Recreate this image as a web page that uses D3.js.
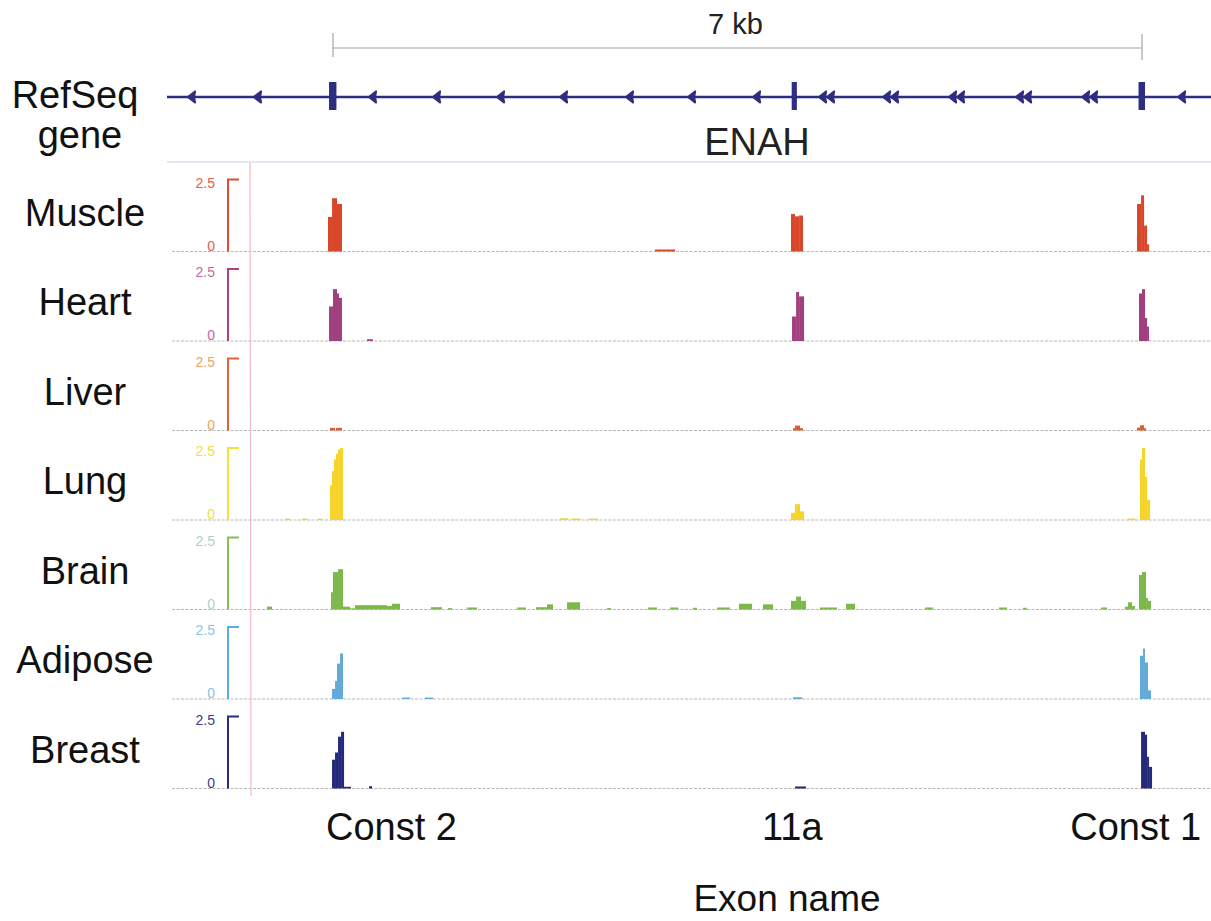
<!DOCTYPE html>
<html>
<head>
<meta charset="utf-8">
<script src="https://cdn.jsdelivr.net/npm/d3@7"></script>
<style>
  html, body { margin: 0; padding: 0; background: #fff; }
  svg { display: block; font-family: "Liberation Sans", Arial, Helvetica, sans-serif; }
</style>
</head>
<body>
<svg id="chart" width="1211" height="921"></svg>
<script>
// ---------- DATA (genomic positions in bp relative to view start) ----------
const viewDomain = [0, 9033];
const geneName = "ENAH";
const scaleBar = { start: 1436, length: 7000, label: "7 kb" };

const exons = [
  { name: "Const 2", start: 1402, end: 1466 },
  { name: "11a",     start: 5405, end: 5450 },
  { name: "Const 1", start: 8406, end: 8462 }
];
const singleArrows = [216, 787, 1782, 2336, 2890, 3435, 4006, 4543, 5105, 8783];
const doubleArrows = [5702, 6256, 6827, 7407, 7978];

const tissues = ["Muscle", "Heart", "Liver", "Lung", "Brain", "Adipose", "Breast"];
const yTicks = [0, 2.5];
const yTickLabels = ["0", "2.5"];

// coverage segments: [start bp, end bp, value]
const muscle = [
  [1393,1428,1.2],[1428,1471,1.85],[1471,1514,1.65],
  [4223,4396,0.07],
  [5399,5434,1.3],[5434,5469,1.22],[5469,5503,1.25],
  [8393,8428,1.65],[8428,8454,1.95],[8454,8480,0.9],[8480,8497,0.25]
];
const heart = [
  [1402,1436,1.2],[1436,1471,1.8],[1471,1488,1.65],[1488,1514,1.5],
  [1731,1782,0.06],
  [5408,5443,0.85],[5443,5469,1.7],[5469,5512,1.55],
  [8410,8436,1.65],[8436,8462,1.8],[8462,8480,0.8],[8480,8497,0.5]
];
const liver = [
  [1410,1454,0.09],[1462,1514,0.09],
  [5417,5434,0.08],[5434,5477,0.17],[5477,5503,0.08],
  [8393,8419,0.1],[8419,8454,0.18],[8454,8471,0.08]
];
const lung = [
  [1021,1064,0.05],[1168,1211,0.05],[1307,1341,0.05],
  [1410,1428,1.2],[1428,1445,1.7],[1445,1462,2.1],[1462,1480,2.3],[1480,1497,2.45],[1497,1523,2.5],
  [3401,3470,0.06],[3500,3580,0.05],[3650,3730,0.05],
  [5399,5434,0.25],[5434,5477,0.55],[5477,5512,0.3],
  [8315,8376,0.05],
  [8419,8436,2.1],[8436,8462,2.5],[8462,8480,1.5],[8480,8506,0.7]
];
const brain = [
  [865,909,0.1],
  [1419,1436,0.6],[1436,1480,1.3],[1480,1523,1.4],[1523,1583,0.1],[1583,1627,0.04],
  [1627,1904,0.15],[1904,1947,0.12],[1947,2016,0.2],
  [2284,2379,0.08],[2431,2466,0.05],[2596,2682,0.07],[3028,3106,0.07],
  [3193,3288,0.08],[3288,3340,0.18],[3461,3574,0.25],[3807,3842,0.05],
  [4162,4240,0.07],[4352,4422,0.07],[4551,4586,0.06],[4759,4871,0.07],
  [4949,5062,0.2],[5157,5244,0.18],
  [5399,5443,0.3],[5443,5486,0.45],[5486,5529,0.3],
  [5650,5797,0.07],[5875,5953,0.2],[6559,6628,0.07],[7199,7268,0.07],
  [7407,7441,0.06],[8082,8134,0.07],
  [8289,8315,0.1],[8315,8350,0.25],[8350,8376,0.12],
  [8410,8436,1.2],[8436,8471,1.3],[8471,8488,0.4],[8488,8514,0.3]
];
const adipose = [
  [1428,1454,0.35],[1454,1471,0.63],[1471,1497,1.23],[1497,1523,1.58],
  [2033,2103,0.05],[2232,2302,0.05],
  [5417,5495,0.06],
  [8419,8445,1.5],[8445,8462,1.75],[8462,8488,1.27],[8488,8514,0.3]
];
const breast = [
  [1428,1454,1.0],[1454,1480,1.25],[1480,1506,1.8],[1506,1532,1.97],[1532,1592,0.06],
  [1748,1774,0.08],
  [5434,5529,0.07],
  [8428,8462,1.97],[8462,8480,1.87],[8480,8497,1.1],[8497,8523,0.75]
];
const trackData = [muscle, heart, liver, lung, brain, adipose, breast];

const barColors   = ["#d9472b", "#a0407f", "#df5a30", "#f6d42a", "#7db84a", "#62aad8", "#25297a"];
const axisColors  = ["#e44a32", "#b0407f", "#e8603a", "#f4e23a", "#88c050", "#5aaee8", "#2a2c7a"];
const tickColors  = ["#ee5a4c", "#c468a2", "#f0a458", "#f0e048", "#a8d4cc", "#8cc4ec", "#3c3c90"];

const exonLabels = [
  { text: "Const 2", exon: 0, anchor: "start",  dx: -3 },
  { text: "11a",     exon: 1, anchor: "middle", dx: -2 },
  { text: "Const 1", exon: 2, anchor: "middle", dx: -6 }
];
const xTitle = "Exon name";

// ---------- DRAW ----------
const svg = d3.select("#chart");
const W = 1211;
const x = d3.scaleLinear().domain(viewDomain).range([167, 1211]);
const geneColor = "#2d2e82";
const geneY = 97;

// scale bar
const sb = svg.append("g").attr("stroke", "#a8a4a0").attr("stroke-width", 1.2);
const sbx0 = x(scaleBar.start), sbx1 = x(scaleBar.start + scaleBar.length);
sb.append("line").attr("x1", sbx0).attr("x2", sbx1).attr("y1", 48).attr("y2", 48);
sb.append("line").attr("x1", sbx0).attr("x2", sbx0).attr("y1", 33).attr("y2", 57);
sb.append("line").attr("x1", sbx1).attr("x2", sbx1).attr("y1", 34).attr("y2", 60);
svg.append("text").attr("x", (sbx0 + sbx1) / 2 - 2).attr("y", 34)
  .attr("text-anchor", "middle").attr("font-size", 29).attr("fill", "#222")
  .text(scaleBar.label);

// gene line
svg.append("line").attr("x1", x(viewDomain[0])).attr("x2", x(viewDomain[1]))
  .attr("y1", geneY).attr("y2", geneY)
  .attr("stroke", geneColor).attr("stroke-width", 2.5);

function arrowPath(px) {
  return `M${px},${geneY} L${px + 7},${geneY - 5.5} L${px + 6},${geneY} L${px + 7},${geneY + 5.5} Z`;
}
svg.append("g").selectAll("path.s").data(singleArrows).join("path")
  .attr("d", d => arrowPath(x(d) - 4))
  .attr("fill", geneColor).attr("stroke", geneColor).attr("stroke-width", 2.2).attr("stroke-linejoin", "round");
svg.append("g").selectAll("path.d").data(doubleArrows).join("path")
  .attr("d", d => arrowPath(x(d) - 7) + arrowPath(x(d) + 1))
  .attr("fill", geneColor).attr("stroke", geneColor).attr("stroke-width", 2.2).attr("stroke-linejoin", "round");

svg.append("g").selectAll("rect").data(exons).join("rect")
  .attr("x", d => x(d.start)).attr("width", d => Math.max(5, x(d.end) - x(d.start)))
  .attr("y", 82).attr("height", 28).attr("fill", geneColor);

svg.append("text").attr("x", 757).attr("y", 155).attr("text-anchor", "middle")
  .attr("font-size", 38).attr("fill", "#222").text(geneName);

// left labels
const labelX = 85;
svg.append("text").attr("x", 75).attr("y", 108).attr("text-anchor", "middle")
  .attr("font-size", 38).attr("fill", "#111").text("RefSeq");
svg.append("text").attr("x", 80).attr("y", 148).attr("text-anchor", "middle")
  .attr("font-size", 38).attr("fill", "#111").text("gene");

// tracks
const band = d3.scaleBand().domain(tissues).range([162, 788.5]).paddingInner(0).paddingOuter(0);
const trackH = 72;

// top separator under gene track
svg.append("line").attr("x1", 167).attr("x2", W).attr("y1", 162).attr("y2", 162)
  .attr("stroke", "#cfd0ea").attr("stroke-width", 1.2);

tissues.forEach((t, i) => {
  const base = band(t) + band.bandwidth();
  const y = d3.scaleLinear().domain([0, 2.5]).range([base, base - trackH]);
  const g = svg.append("g");

  // baseline separator (dotted gray)
  g.append("line").attr("x1", 172).attr("x2", W).attr("y1", base).attr("y2", base)
    .attr("stroke", "#b8b8b8").attr("stroke-width", 1).attr("stroke-dasharray", "3,1.5");

  // bars
  g.selectAll("rect").data(trackData[i]).join("rect")
    .attr("x", d => x(d[0])).attr("width", d => Math.max(1, x(d[1]) - x(d[0])))
    .attr("y", d => y(d[2])).attr("height", d => base - y(d[2]))
    .attr("fill", barColors[i]);

  // bracket axis
  const ax = 228;
  g.append("path")
    .attr("d", `M${ax},${y(yTicks[0])} L${ax},${y(yTicks[1])} L${ax + 11},${y(yTicks[1])}`)
    .attr("fill", "none").attr("stroke", axisColors[i]).attr("stroke-width", 2);
  g.append("text").attr("x", 215).attr("y", y(yTicks[1]) + 8).attr("text-anchor", "end")
    .attr("font-size", 14).attr("fill", tickColors[i]).text(yTickLabels[1]);
  g.append("text").attr("x", 215).attr("y", y(yTicks[0]) - 1).attr("text-anchor", "end")
    .attr("font-size", 14).attr("fill", tickColors[i]).text(yTickLabels[0]);

  // track name
  svg.append("text").attr("x", labelX).attr("y", base - 26).attr("text-anchor", "middle")
    .attr("font-size", 38).attr("fill", "#111").text(t);
});

// pink vertical line
svg.append("line").attr("x1", 250).attr("x2", 251).attr("y1", 163).attr("y2", 796)
  .attr("stroke", "#f4b8c8").attr("stroke-width", 1.2);

// exon labels
svg.append("g").selectAll("text").data(exonLabels).join("text")
  .attr("x", d => {
    const e = exons[d.exon];
    return (d.anchor === "start" ? x(e.start) : x((e.start + e.end) / 2)) + d.dx;
  })
  .attr("y", 840).attr("text-anchor", d => d.anchor)
  .attr("font-size", 38).attr("fill", "#111").text(d => d.text);

svg.append("text").attr("x", 787).attr("y", 911).attr("text-anchor", "middle")
  .attr("font-size", 37).attr("fill", "#111").text(xTitle);
</script>
</body>
</html>
